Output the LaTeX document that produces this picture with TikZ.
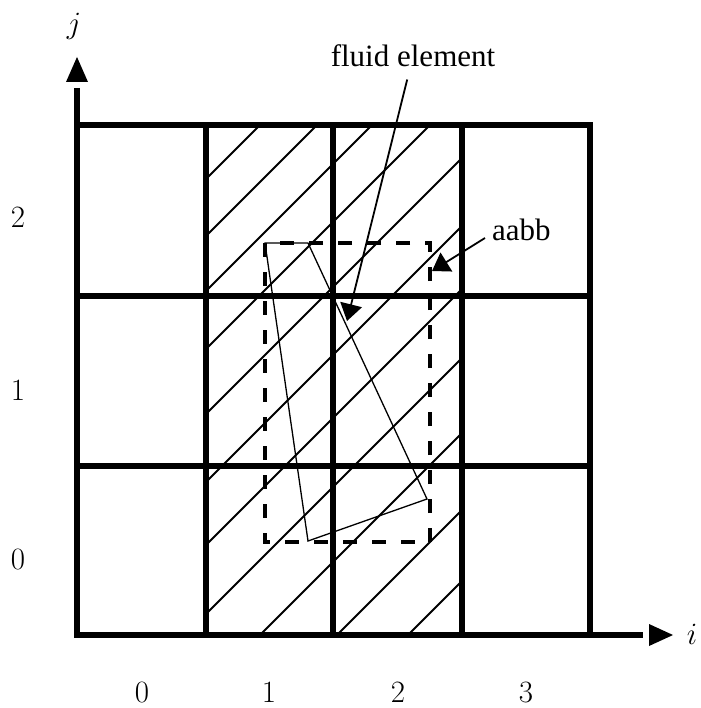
\RequirePackage{fix-cm}
\documentclass[tikz,border=0pt]{standalone}
\usepackage{fontspec}
\newfontfamily\tnr{Liberation Serif}
\usetikzlibrary{arrows.meta}
\begin{document}
\begin{tikzpicture}[x=1pt,y=-1pt,
  gridline/.style={line width=5.7pt,line cap=rect},
  axisline/.style={line width=5.7pt,line join=miter},
  hatchline/.style={line width=1.8pt},
  aabbbox/.style={line width=3.5pt,dash pattern=on 14pt off 15pt},
  elem/.style={line width=1.3pt,line join=miter},
  annot/.style={line width=1.8pt,-{Triangle[length=17pt,width=22pt]}},
  lbl/.style={font=\fontsize{31}{37}\selectfont,inner sep=0pt},
  txt/.style={font=\tnr\fontsize{31}{37}\selectfont}]
\useasboundingbox (0,0) rectangle (700,708);
% hatching
\begin{scope}
  \clip (206,125) rectangle (462,635);
  \foreach \c in {385,442,497,555,620,688,751,820,895,972,1043}
    \draw[hatchline] (100,\c-100) -- (700,\c-700);
\end{scope}
% grid
\foreach \x in {206,333,462,590} \draw[gridline] (\x,125) -- (\x,635);
\foreach \y in {125,296,466} \draw[gridline] (77,\y) -- (590,\y);
% axes
\coordinate (o) at (77,635);
\coordinate (ytop) at (77,88);
\coordinate (xend) at (643,635);
\draw[axisline] (ytop) -- (o) -- (xend);
\fill (66,82) -- (77,57) -- (88,82) -- cycle;
\fill (649,624) -- (673,635) -- (649,646) -- cycle;
% fluid element and aabb
\draw[elem] (265,243) -- (308,243) -- (427,499) -- (308,541) -- cycle;
\draw[aabbbox] (265,243) rectangle (430,542);
% labels
\node[txt,anchor=base,inner sep=12pt] (fe) at (413,67) {fluid element};
\node[txt,anchor=mid west,inner sep=7pt] (ab) at (485,238) {aabb};
\coordinate (feTip) at (347,321);
\coordinate (abTip) at (432,271);
\draw[annot] (fe) -- (feTip);
\draw[annot] (ab.mid west) -- (abTip);
% axis labels
\node[lbl] (lj) at (74,26) {$j$};
\node[lbl] (li) at (692,634) {$i$};
\node[lbl] (r2) at (18,218) {$2$};
\node[lbl] (r1) at (18,391) {$1$};
\node[lbl] (r0) at (18,560) {$0$};
\node[lbl] (c0) at (142,692) {$0$};
\node[lbl] (c1) at (269,692) {$1$};
\node[lbl] (c2) at (398,692) {$2$};
\node[lbl] (c3) at (526,692) {$3$};
\end{tikzpicture}
\end{document}
